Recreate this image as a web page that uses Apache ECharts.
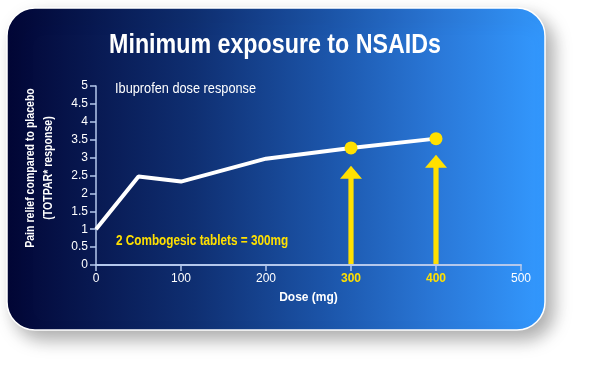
<!DOCTYPE html>
<html><head><meta charset="utf-8">
<script src="https://cdn.jsdelivr.net/npm/echarts@6/dist/echarts.min.js"></script>
<style>html,body{margin:0;padding:0;background:#fff}#c{width:594px;height:381px}</style>
</head><body><div id="c"></div>
<script>
var doses = [0, 50, 100, 200, 300, 400];
var response = [1, 2.47, 2.33, 2.97, 3.27, 3.53];
var highlightDoses = [300, 400];
var highlightResponse = [3.27, 3.53];
var arrowTips = [2.77, 3.08];
var xTicks = [0, 100, 200, 300, 400, 500];
var yTicks = [0, 0.5, 1, 1.5, 2, 2.5, 3, 3.5, 4, 4.5, 5];
var FONT = '"Liberation Sans", Arial, Helvetica, sans-serif';

var chart = echarts.init(document.getElementById('c'), null, {renderer: 'canvas'});
var lineData = doses.map(function (d, i) { return [d, response[i]]; });
var dotData = highlightDoses.map(function (d, i) { return [d, highlightResponse[i]]; });
var arrowData = highlightDoses.map(function (d, i) { return [d, arrowTips[i]]; });

chart.setOption({
  animation: false,
  graphic: [
    {
      type: 'rect', z: -10, silent: true,
      shape: {x: 7, y: 8, width: 538, height: 322, r: 28},
      style: {
        fill: new echarts.graphic.LinearGradient(0, 0, 1, 0, [
          {offset: 0, color: '#020636'},
          {offset: 0.35, color: '#0f2f72'},
          {offset: 0.6, color: '#1c56ab'},
          {offset: 0.8, color: '#2a78d8'},
          {offset: 1, color: '#3399ff'}
        ]),
        stroke: '#ffffff', lineWidth: 1.5,
        shadowBlur: 18, shadowColor: 'rgba(0,0,0,0.33)', shadowOffsetX: 8, shadowOffsetY: 9
      }
    },
    {
      type: 'text', z: 10, x: 275, y: 45, scaleX: 0.83,
      style: {text: 'Minimum exposure to NSAIDs', fill: '#ffffff', font: 'bold 28px ' + FONT,
        textAlign: 'center', textVerticalAlign: 'middle'}
    },
    {
      type: 'text', z: 10, x: 115, y: 89, scaleX: 0.85,
      style: {text: 'Ibuprofen dose response', fill: '#ffffff', font: '15px ' + FONT,
        textAlign: 'left', textVerticalAlign: 'middle'}
    },
    {
      type: 'text', z: 10, x: 116, y: 241, scaleX: 0.84,
      style: {text: '2 Combogesic tablets = 300mg', fill: '#ffe000', font: 'bold 14px ' + FONT,
        textAlign: 'left', textVerticalAlign: 'middle'}
    },
    {
      type: 'text', z: 10, x: 40, y: 168, rotation: Math.PI / 2, scaleX: 0.88,
      style: {text: 'Pain relief compared to placebo\n(TOTPAR* response)', fill: '#ffffff',
        font: 'bold 12px ' + FONT, lineHeight: 18, textAlign: 'center', textVerticalAlign: 'middle'}
    }
  ],
  grid: {left: 96, right: 73, top: 86, bottom: 116},
  xAxis: {
    type: 'value', min: 0, max: 500, interval: 100,
    name: 'Dose (mg)', nameLocation: 'middle', nameGap: 27,
    nameTextStyle: {color: '#ffffff', fontFamily: FONT, fontWeight: 'bold', fontSize: 12},
    axisLine: {show: true, lineStyle: {color: '#b4c8ec', width: 2}},
    axisTick: {show: true, length: 6, lineStyle: {color: '#b4c8ec', width: 1.5}},
    splitLine: {show: false},
    axisLabel: {
      margin: 8, fontFamily: FONT, fontSize: 12,
      formatter: function (v) { return highlightDoses.indexOf(v) >= 0 ? '{h|' + v + '}' : '{n|' + v + '}'; },
      rich: {
        n: {color: '#ffffff', fontFamily: FONT, fontSize: 12},
        h: {color: '#ffe000', fontFamily: FONT, fontSize: 12, fontWeight: 'bold'}
      }
    }
  },
  yAxis: {
    type: 'value', min: 0, max: 5, interval: 0.5,
    axisLine: {show: true, lineStyle: {color: '#b4c8ec', width: 1.5}},
    axisTick: {show: true, length: 6, lineStyle: {color: '#b4c8ec', width: 1.5}},
    splitLine: {show: false},
    axisLabel: {color: '#ffffff', fontFamily: FONT, fontSize: 12, margin: 8,
      formatter: function (v) { return String(v); }}
  },
  series: [
    {
      type: 'custom', z: 3,
      renderItem: function (params, api) {
        var tip = api.coord([api.value(0), api.value(1)]);
        var base = api.coord([api.value(0), 0]);
        var sw = 2.6, hw = 11, hh = 13;
        return {
          type: 'polygon',
          shape: {points: [
            [tip[0], tip[1]],
            [tip[0] + hw, tip[1] + hh],
            [tip[0] + sw, tip[1] + hh],
            [base[0] + sw, base[1] - 1],
            [base[0] - sw, base[1] - 1],
            [tip[0] - sw, tip[1] + hh],
            [tip[0] - hw, tip[1] + hh]
          ]},
          style: {fill: '#ffe000'}
        };
      },
      encode: {x: 0, y: 1},
      data: arrowData
    },
    {
      type: 'line', z: 4, data: lineData, showSymbol: false, symbol: 'none',
      lineStyle: {color: '#ffffff', width: 4}
    },
    {
      type: 'scatter', z: 5, data: dotData, symbolSize: 13,
      itemStyle: {color: '#ffe000', opacity: 1}
    }
  ]
});
</script></body></html>
